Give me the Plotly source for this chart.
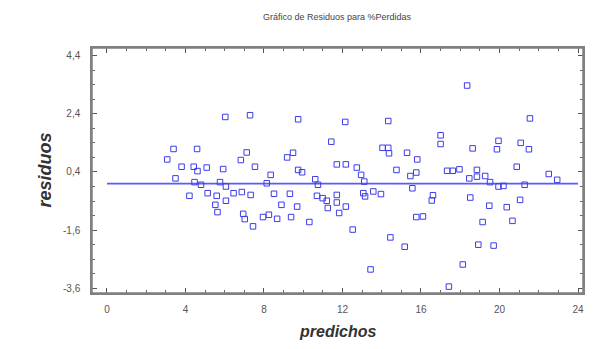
import plotly.graph_objects as go

# Predicted values (x) and residuals (y)
predichos = [
    6.03, 7.29, 3.39, 4.59, 3.07, 7.12, 6.82, 3.80, 4.42, 4.61, 5.08, 5.92, 7.54,
    3.49, 4.46, 4.79, 5.76, 6.06, 4.20, 5.13, 5.59, 6.45, 6.87, 7.32, 5.52, 6.06,
    8.14, 5.63, 6.94, 7.02, 7.44, 7.95,
    9.74, 12.14, 14.33, 11.43, 9.18, 9.48, 14.04, 14.33, 14.37, 15.29, 15.81,
    9.74, 9.94, 11.71, 12.17, 12.73, 12.95, 14.75, 15.46, 15.76, 8.34, 10.61,
    10.75, 13.11, 15.56, 8.51, 9.32, 10.70, 10.99, 11.20, 11.71, 11.71, 13.06,
    13.15, 13.57, 13.96, 8.89, 9.69, 11.25, 12.17,
    11.83, 8.25, 8.67, 9.38, 10.31, 12.52, 14.44, 15.17, 13.43, 15.76, 16.10,
    18.35, 21.55, 17.00, 17.00, 18.63, 19.95, 19.87, 21.08, 21.50, 17.33, 17.62,
    17.96, 18.85, 18.46, 18.85, 19.27, 19.52, 19.95, 20.20, 20.88, 21.28, 22.51,
    22.94, 16.61, 16.55, 18.51, 19.48, 20.37, 21.05,
    19.14, 20.66, 18.92, 19.70, 18.13, 17.42,
]
residuos = [
    2.29, 2.35, 1.19, 1.19, 0.83, 1.07, 0.81, 0.58, 0.58, 0.43, 0.55, 0.50, 0.58,
    0.18, 0.05, -0.04, 0.05, -0.10, -0.42, -0.33, -0.42, -0.33, -0.29, -0.39, -0.73, -0.59,
    0.01, -0.98, -1.04, -1.22, -1.47, -1.15,
    2.21, 2.12, 2.15, 1.44, 0.90, 1.06, 1.23, 1.23, 1.04, 1.06, 0.83,
    0.47, 0.39, 0.66, 0.66, 0.55, 0.30, 0.47, 0.26, 0.38, 0.30, 0.15,
    -0.04, 0.07, -0.16, -0.35, -0.35, -0.42, -0.50, -0.59, -0.39, -0.65, -0.33,
    -0.44, -0.27, -0.36, -0.73, -0.79, -0.84, -0.79,
    -1.01, -1.07, -1.21, -1.15, -1.32, -1.58, -1.85, -2.17, -2.95, -1.15, -1.13,
    3.37, 2.24, 1.66, 1.36, 1.21, 1.47, 1.18, 1.40, 1.18, 0.44, 0.44,
    0.49, 0.47, 0.18, 0.24, 0.26, 0.05, -0.10, -0.08, 0.58, -0.04, 0.33,
    0.13, -0.40, -0.58, -0.48, -0.76, -0.81, -0.56,
    -1.32, -1.28, -2.10, -2.13, -2.78, -3.54,
]

# Zero reference line
linea_x = [0, 24]
linea_y = [0, 0]

x_ticks = [0, 4, 8, 12, 16, 20, 24]
y_ticks = [-3.6, -1.6, 0.4, 2.4, 4.4]
y_labels = ["-3,6", "-1,6", "0,4", "2,4", "4,4"]

blue = "rgb(60,60,235)"
frame = "#808080"

fig = go.Figure()
fig.add_trace(go.Scatter(
    x=linea_x, y=linea_y, mode="lines",
    line=dict(color="rgb(90,90,255)", width=1.6),
    hoverinfo="skip", showlegend=False,
))
fig.add_trace(go.Scatter(
    x=predichos, y=residuos, mode="markers",
    marker=dict(symbol="square-open", size=5.5, color=blue, line=dict(width=1.0, color=blue)),
    showlegend=False,
))

axis_common = dict(
    showgrid=False, zeroline=False, showline=True, linecolor=frame, linewidth=1.5,
    mirror="allticks", ticks="inside", ticklen=5, tickwidth=1, tickcolor="#555",
    ticklabeloverflow="allow",
    tickfont=dict(family="Liberation Sans, Arial", size=10, color="#555"),
)

# The page body adds an 8px margin; the figure is sized to the visible area
fig.update_layout(
    width=577, height=333,
    margin=dict(l=84, r=2, t=40, b=48, autoexpand=False),
    plot_bgcolor="white", paper_bgcolor="white",
    xaxis=dict(
        range=[-0.764, 24.255], tickvals=x_ticks, ticktext=[str(v) for v in x_ticks],
        minor=dict(dtick=1, tick0=0, ticks="inside", ticklen=3, tickcolor="#666"),
        ticklabelstandoff=6,
        **axis_common,
    ),
    yaxis=dict(
        range=[-3.76, 4.66], tickvals=y_ticks, ticktext=y_labels,
        minor=dict(dtick=0.5, tick0=-3.6, ticks="inside", ticklen=3, tickcolor="#666"),
        ticklabelstandoff=8,
        **axis_common,
    ),
    shapes=[dict(type="rect", xref="paper", yref="paper", x0=0, x1=1, y0=0, y1=1,
                 line=dict(color=frame, width=1.5), layer="above")],
    annotations=[
        dict(text="Gráfico de Residuos para %Perdidas", xref="paper", yref="paper",
             x=0.5, y=1, yshift=38, showarrow=False,
             font=dict(family="Liberation Sans, Arial", size=9, color="#444")),
        dict(text="<b><i>predichos</i></b>", xref="paper", yref="paper",
             x=0.5, y=0, yanchor="bottom", yshift=-49, showarrow=False,
             font=dict(family="Liberation Sans, Arial", size=16, color="#333")),
        dict(text="<b><i>residuos</i></b>", xref="paper", yref="paper",
             x=0, xshift=-60, y=0.5, showarrow=False, textangle=-90,
             font=dict(family="Liberation Sans, Arial", size=18, color="#333")),
    ],
)

fig.write_html("out.html")
